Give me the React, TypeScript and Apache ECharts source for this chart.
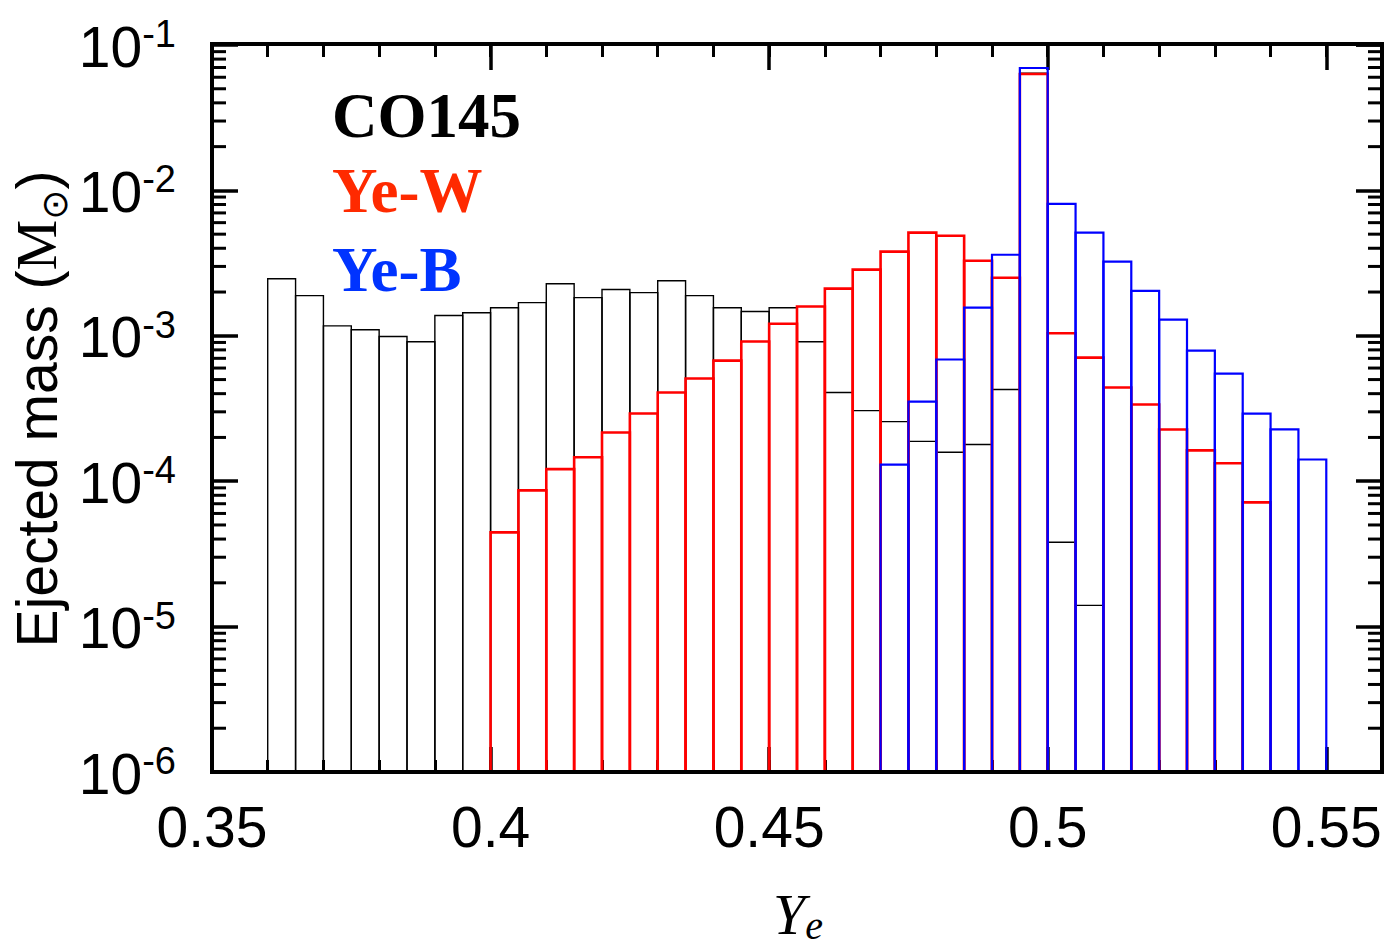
import React, { useEffect, useRef } from "react";
import * as echarts from "echarts";

// ---- data ----
const yeBinLowerEdges = [
  0.36, 0.365, 0.37, 0.375, 0.38, 0.385, 0.39, 0.395, 0.4, 0.405,
  0.41, 0.415, 0.42, 0.425, 0.43, 0.435, 0.44, 0.445, 0.45, 0.455,
  0.46, 0.465, 0.47, 0.475, 0.48, 0.485, 0.49, 0.495, 0.5, 0.505,
  0.51, 0.515, 0.52, 0.525, 0.53, 0.535, 0.54, 0.545,
];
const binWidth = 0.005;

const co145 = [
  2.47e-3, 1.89e-3, 1.17e-3, 1.1e-3, 9.9e-4, 9.1e-4, 1.38e-3, 1.44e-3, 1.56e-3, 1.69e-3,
  2.28e-3, 1.83e-3, 2.08e-3, 1.98e-3, 2.39e-3, 1.89e-3, 1.56e-3, 1.47e-3, 1.56e-3, 9.1e-4,
  4.07e-4, 3.06e-4, 2.57e-4, 1.88e-4, 1.58e-4, 1.79e-4, 4.27e-4, 6.4e-2, 3.8e-5, 1.4e-5,
  null, null, null, null, null, null, null, null,
];
const yeW = [
  null, null, null, null, null, null, null, null, 4.45e-5, 8.65e-5,
  1.21e-4, 1.46e-4, 2.16e-4, 2.92e-4, 4.07e-4, 5.08e-4, 6.75e-4, 9.13e-4, 1.21e-3, 1.59e-3,
  2.11e-3, 2.85e-3, 3.79e-3, 5.12e-3, 4.88e-3, 3.28e-3, 2.51e-3, 6.32e-2, 1.04e-3, 7.08e-4,
  4.41e-4, 3.37e-4, 2.27e-4, 1.63e-4, 1.33e-4, 7.15e-5, null, null,
];
const yeB = [
  null, null, null, null, null, null, null, null, null, null,
  null, null, null, null, null, null, null, null, null, null,
  null, null, 1.3e-4, 3.53e-4, 6.87e-4, 1.56e-3, 3.61e-3, 6.95e-2, 8.09e-3, 5.12e-3,
  3.24e-3, 2.04e-3, 1.29e-3, 7.91e-4, 5.5e-4, 2.92e-4, 2.27e-4, 1.41e-4,
];

const seriesNames = ["CO145", "Ye-W", "Ye-B"];
const X_MIN = 0.35;
const X_MAX = 0.56;
const Y_MIN = 1e-6;
const Y_MAX = 1e-1;
const xMajorTicks = [0.35, 0.4, 0.45, 0.5, 0.55];

const SANS = "'Liberation Sans', Arial, Helvetica, sans-serif";
const SERIF = "'Liberation Serif', 'Times New Roman', Times, serif";

function yMinorTicks(): number[] {
  const out: number[] = [];
  for (let e = -6; e < -1; e++) {
    for (let m = 2; m <= 9; m++) out.push(m * Math.pow(10, e));
  }
  return out;
}

function histData(vals: (number | null)[]) {
  const out: number[][] = [];
  yeBinLowerEdges.forEach((lo, i) => {
    const v = vals[i];
    if (v != null) out.push([lo, lo + binWidth, v]);
  });
  return out;
}

function histSeries(name: string, vals: (number | null)[], color: string, lw: number, z: number) {
  return {
    type: "custom",
    name,
    xAxisIndex: 0,
    yAxisIndex: 0,
    z,
    silent: true,
    clip: false,
    encode: { x: [0, 1], y: 2 },
    data: histData(vals),
    renderItem: (params: any, api: any) => {
      const lo = api.value(0);
      const hi = api.value(1);
      const v = api.value(2);
      const tl = api.coord([lo, v]);
      const br = api.coord([hi, Y_MIN]);
      return {
        type: "polyline",
        shape: {
          points: [
            [tl[0], br[1]],
            [tl[0], tl[1]],
            [br[0], tl[1]],
            [br[0], br[1]],
          ],
        },
        style: { fill: "none", stroke: color, lineWidth: lw },
      };
    },
  };
}

function isMajorX(v: number) {
  return xMajorTicks.some((t) => Math.abs(t - v) < 1e-6);
}

export default function App() {
  const ref = useRef<HTMLDivElement>(null);
  useEffect(() => {
    if (!ref.current) return;
    const chart = echarts.init(ref.current, null, { renderer: "svg" });
    const xBase = {
      type: "value",
      min: X_MIN,
      max: X_MAX,
      gridIndex: 0,
      splitLine: { show: false },
      axisLine: { show: false },
    };
    const yBase = {
      type: "log",
      logBase: 10,
      min: Y_MIN,
      max: Y_MAX,
      gridIndex: 0,
      splitLine: { show: false },
      axisLine: { show: false },
    };
    const option: any = {
      animation: false,
      backgroundColor: "#fff",
      grid: { left: 212, right: 12, top: 44, bottom: 176 },
      xAxis: [
        {
          ...xBase,
          position: "bottom",
          interval: 0.01,
          axisTick: { inside: true, length: 12, lineStyle: { width: 3, color: "#000" } },
          axisLabel: {
            margin: 26,
            fontSize: 57,
            fontFamily: SANS,
            color: "#000",
            formatter: (v: number) => (isMajorX(v) ? String(parseFloat(v.toFixed(2))) : ""),
          },
        },
        {
          ...xBase,
          position: "bottom",
          interval: 0.05,
          axisTick: { inside: true, length: 25, lineStyle: { width: 3.5, color: "#000" } },
          axisLabel: { show: false },
        },
        {
          ...xBase,
          position: "top",
          interval: 0.01,
          axisTick: { inside: true, length: 12, lineStyle: { width: 3, color: "#000" } },
          axisLabel: { show: false },
        },
        {
          ...xBase,
          position: "top",
          interval: 0.05,
          axisTick: { inside: true, length: 25, lineStyle: { width: 3.5, color: "#000" } },
          axisLabel: { show: false },
        },
      ],
      yAxis: [
        {
          ...yBase,
          position: "left",
          axisTick: { inside: true, length: 26, lineStyle: { width: 3.5, color: "#000" } },
          axisLabel: {
            margin: 36,
            color: "#000",
            formatter: (v: number) => {
              const e = Math.round(Math.log10(v));
              return `{b|10}{s|${e}}`;
            },
            rich: {
              b: { fontSize: 57, fontFamily: SANS, color: "#000", lineHeight: 60, padding: [18, 0, 0, 0], verticalAlign: "bottom" },
              s: { fontSize: 38, fontFamily: SANS, color: "#000", lineHeight: 40, verticalAlign: "top" },
            },
          },
        },
        {
          ...yBase,
          position: "right",
          axisTick: { inside: true, length: 26, lineStyle: { width: 3.5, color: "#000" } },
          axisLabel: { show: false },
        },
      ],
      series: [
        histSeries(seriesNames[0], co145, "#000000", 1.4, 2),
        histSeries(seriesNames[1], yeW, "#ff0000", 2.6, 3),
        histSeries(seriesNames[2], yeB, "#0000ff", 2.2, 4),
        {
          type: "custom",
          name: "minorTicks",
          xAxisIndex: 0,
          yAxisIndex: 0,
          silent: true,
          clip: false,
          z: 5,
          encode: { x: 0, y: 1 },
          data: yMinorTicks().map((v) => [X_MIN, v]),
          renderItem: (params: any, api: any) => {
            const v = api.value(1);
            const l = api.coord([X_MIN, v]);
            const r = api.coord([X_MAX, v]);
            return {
              type: "group",
              children: [
                { type: "line", shape: { x1: l[0], y1: l[1], x2: l[0] + 14, y2: l[1] }, style: { stroke: "#000", lineWidth: 3 } },
                { type: "line", shape: { x1: r[0] - 14, y1: r[1], x2: r[0], y2: r[1] }, style: { stroke: "#000", lineWidth: 3 } },
              ],
            };
          },
        },
      ],
      graphic: [
        {
          type: "rect",
          z: 100,
          silent: true,
          shape: { x: 212, y: 44, width: 1170, height: 728 },
          style: { fill: "none", stroke: "#000", lineWidth: 4 },
        },
        {
          type: "text",
          z: 100,
          x: 332,
          y: 116,
          style: { text: seriesNames[0], fill: "#000", font: `bold 63px ${SERIF}`, verticalAlign: "middle", align: "left" },
        },
        {
          type: "text",
          z: 100,
          x: 332,
          y: 191,
          style: { text: seriesNames[1], fill: "#ff2a00", font: `bold 63px ${SERIF}`, verticalAlign: "middle", align: "left" },
        },
        {
          type: "text",
          z: 100,
          x: 332,
          y: 270,
          style: { text: seriesNames[2], fill: "#0033ff", font: `bold 63px ${SERIF}`, verticalAlign: "middle", align: "left" },
        },
        {
          type: "text",
          z: 100,
          x: 40,
          y: 409,
          rotation: Math.PI / 2,
          style: {
            text: "{a|Ejected mass (}{m|M}{o|⊙}{a|)}",
            align: "center",
            verticalAlign: "middle",
            rich: {
              a: { fontSize: 57, fontFamily: SANS, fill: "#000", lineHeight: 64, padding: [0, 0, 16, 0], verticalAlign: "top" },
              m: { fontSize: 57, fontFamily: SERIF, fill: "#000", lineHeight: 64, padding: [0, 0, 16, 0], verticalAlign: "top" },
              o: { fontSize: 36, fontFamily: "'DejaVu Sans', sans-serif", fill: "#000", lineHeight: 40, verticalAlign: "bottom" },
            },
          },
        },
        {
          type: "text",
          z: 100,
          x: 798,
          y: 915,
          style: {
            text: "{y|Y}{e|e}",
            align: "center",
            verticalAlign: "middle",
            rich: {
              y: { fontSize: 58, fontFamily: SERIF, fontStyle: "italic", fill: "#000", lineHeight: 60, padding: [0, 0, 14, 0], verticalAlign: "top" },
              e: { fontSize: 40, fontFamily: SERIF, fontStyle: "italic", fill: "#000", lineHeight: 40, verticalAlign: "bottom" },
            },
          },
        },
      ],
    };
    chart.setOption(option);
    return () => chart.dispose();
  }, []);
  return (
    <div
      ref={ref}
      style={{ position: "absolute", left: 0, top: 0, width: 1394, height: 948, background: "#fff" }}
    />
  );
}
